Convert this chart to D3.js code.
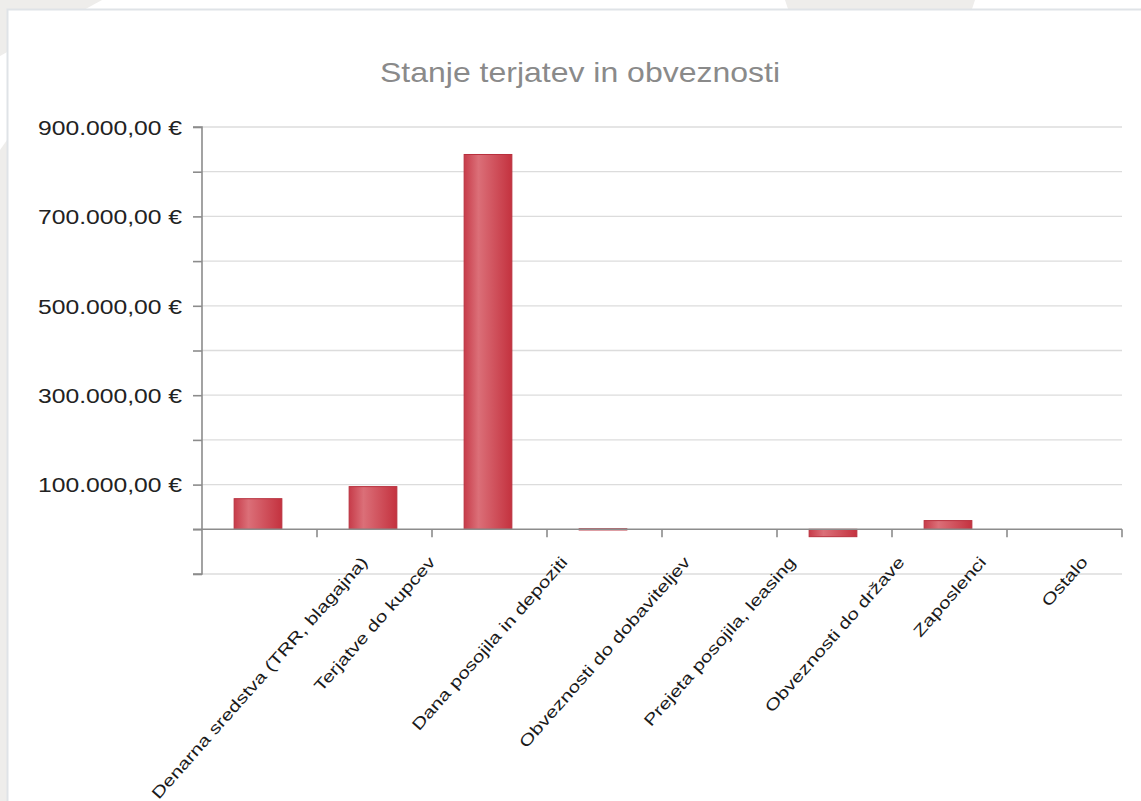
<!DOCTYPE html>
<html>
<head>
<meta charset="utf-8">
<script src="https://cdn.jsdelivr.net/npm/d3@7"></script>
<style>
  html, body { margin: 0; padding: 0; background: #ffffff; }
  svg { display: block; }
  text { font-family: "Liberation Sans", Arial, sans-serif; }
</style>
</head>
<body>
<svg id="chart" width="1141" height="801"></svg>
<script>
// ---- data ----
const title = "Stanje terjatev in obveznosti";
const categories = [
  "Denarna sredstva (TRR, blagajna)",
  "Terjatve do kupcev",
  "Dana posojila in depoziti",
  "Obveznosti do dobaviteljev",
  "Prejeta posojila, leasing",
  "Obveznosti do države",
  "Zaposlenci",
  "Ostalo"
];
const values = [68500, 95500, 838500, 1200, 0, -16500, 19500, 0];
const yTicks = [-100000, 0, 100000, 200000, 300000, 400000, 500000, 600000, 700000, 800000, 900000];
const yLabelled = [100000, 300000, 500000, 700000, 900000];

// ---- setup ----
const svg = d3.select("#chart");
const W = 1141, H = 801;

// background decoration
svg.append("rect").attr("width", W).attr("height", H).attr("fill", "#ffffff");
svg.append("polygon").attr("points", "0,0 102,0 0,56").attr("fill", "#eeedeb");
svg.append("polygon").attr("points", "785,0 975,0 972,9 788,9").attr("fill", "#eeedeb");
svg.append("polygon").attr("points", "0,150 7,140 7,801 0,801").attr("fill", "#eeedeb");

// panel
svg.append("rect")
  .attr("x", 7.5).attr("y", 9.5).attr("width", W).attr("height", H)
  .attr("fill", "#ffffff").attr("stroke", "#dfe3e7").attr("stroke-width", 2);

const x = d3.scaleBand().domain(categories).range([202, 1122]).padding(0);
const y = d3.scaleLinear().domain([-100000, 900000]).range([574, 127]);

const locale = d3.formatLocale({decimal: ",", thousands: ".", grouping: [3], currency: ["", " €"]});
const fmt = locale.format("$,.2f");

// gridlines
svg.append("g").selectAll("line").data(yTicks.filter(d => d !== 0)).join("line")
  .attr("x1", 202).attr("x2", 1122)
  .attr("y1", d => y(d)).attr("y2", d => y(d))
  .attr("stroke", "#dcdcdc").attr("stroke-width", 1.3);

// gradient for bars
const defs = svg.append("defs");
const grad = defs.append("linearGradient").attr("id", "barGrad")
  .attr("x1", "0%").attr("x2", "100%").attr("y1", "0%").attr("y2", "0%");
grad.append("stop").attr("offset", "0%").attr("stop-color", "#c73c4a");
grad.append("stop").attr("offset", "30%").attr("stop-color", "#db6f78");
grad.append("stop").attr("offset", "100%").attr("stop-color", "#c4323f");

// bars
const bw = x.bandwidth() * 0.415;
svg.append("g").selectAll("rect").data(categories.map((c, i) => ({c, v: values[i]})))
  .join("rect")
  .filter(d => d.v !== 0)
  .attr("x", d => x(d.c) + x.bandwidth() / 2 - bw / 2 - 1.5)
  .attr("width", bw)
  .attr("y", d => Math.min(y(d.v), y(0)))
  .attr("height", d => Math.max(1.2, Math.abs(y(d.v) - y(0))))
  .attr("fill", "url(#barGrad)")
  .attr("stroke", "#b8303d").attr("stroke-width", 1);

// y axis
const yAxis = d3.axisLeft(y).tickValues(yTicks).tickSize(9).tickPadding(11)
  .tickFormat(d => yLabelled.includes(d) ? fmt(d) : "");
const gy = svg.append("g").attr("transform", "translate(202,0)").call(yAxis);
gy.select(".domain").attr("stroke", "#8c8c8c").attr("stroke-width", 1.6)
  .attr("d", "M-9,127H0V574H-9");
gy.selectAll(".tick line").attr("stroke", "#8c8c8c").attr("stroke-width", 1.6);
gy.selectAll(".tick text").attr("fill", "#222222").attr("font-size", 20)
  .attr("font-family", "'Liberation Sans', Arial, sans-serif")
  .attr("dy", "0.36em")
  .each(function() {
    if (this.textContent) d3.select(this).attr("textLength", 144).attr("lengthAdjust", "spacingAndGlyphs");
  });

// x axis at zero
const gx = svg.append("g").attr("transform", `translate(0,${y(0)})`);
gx.append("line").attr("x1", 193).attr("x2", 1122).attr("y1", 0).attr("y2", 0)
  .attr("stroke", "#8c8c8c").attr("stroke-width", 1.6);
gx.selectAll("line.tk").data(categories).join("line").attr("class", "tk")
  .attr("x1", d => x(d) + x.bandwidth()).attr("x2", d => x(d) + x.bandwidth())
  .attr("y1", 0).attr("y2", 8)
  .attr("stroke", "#8c8c8c").attr("stroke-width", 1.6);

// x labels rotated
const ang = 48.5;
const scaleK = 1.3;
const lab = svg.append("g").selectAll("text").data(categories).join("text")
  .attr("font-size", 16).attr("fill", "#1a1a1a")
  .attr("text-anchor", "middle")
  .text(d => d);
lab.each(function(d) {
  const el = d3.select(this);
  const L0 = this.getComputedTextLength();
  const L = L0 * scaleK;
  el.attr("textLength", L).attr("lengthAdjust", "spacingAndGlyphs");
  const cx = x(d) + x.bandwidth() / 2;
  const cy = 551 + (L / 2) * Math.sin(ang * Math.PI / 180) + 8;
  el.attr("transform", `translate(${cx},${cy}) rotate(${-ang})`).attr("dy", "0.35em");
});

// title
svg.append("text").attr("x", 580).attr("y", 82).attr("text-anchor", "middle")
  .attr("font-size", 28).attr("fill", "#8a8a8a")
  .attr("textLength", 400).attr("lengthAdjust", "spacingAndGlyphs")
  .text(title);
</script>
</body>
</html>
